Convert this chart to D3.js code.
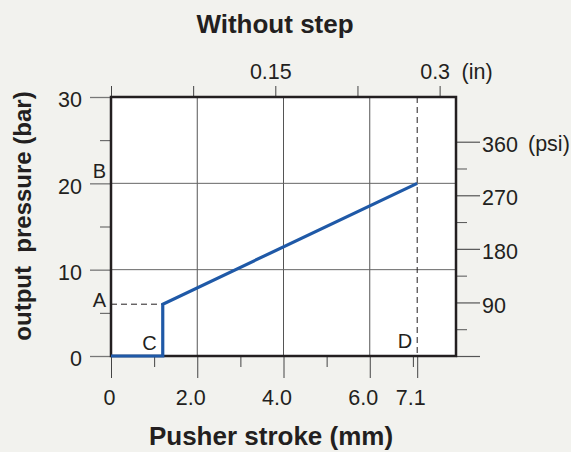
<!DOCTYPE html>
<html>
<head>
<meta charset="utf-8">
<script src="https://cdn.jsdelivr.net/npm/d3@7"></script>
<style>
  html, body { margin: 0; padding: 0; background: #f2f2ee; }
  svg { display: block; font-family: "Liberation Sans", Arial, Helvetica, sans-serif; }
</style>
</head>
<body>
<svg id="chart" width="571" height="452"></svg>
<script>
// Pressure curve: pusher stroke (mm) vs output pressure (bar)
const strokeMm = [0, 1.2, 1.2, 7.1];
const pressureBar = [0, 0, 6, 20];

// Axis ticks
const mmTicks = [0, 2, 4, 6, 7.1];
const mmLabels = ["0", "2.0", "4.0", "6.0", "7.1"];
const mmMinor = [1, 3, 5, 7];
const mmGrid = [2, 4, 6];
const barTicks = [0, 10, 20, 30];
const barMinor = [5, 15, 25];
const barGrid = [10, 20];
const inchTicks = [0, 0.075, 0.15, 0.225, 0.3];
const inchLabels = [0.15, 0.3];
const psiTicks = [0, 90, 180, 270, 360];
const psiMinor = [45, 135, 225, 315];

// Marked points
const levelA = 6;       // bar, pressure right after the step
const levelB = 20;      // bar, final pressure
const strokeC = 1.2;    // mm, step position
const strokeD = 7.1;    // mm, full stroke

const ink = "#231f20";
const tickFont = 21.5;
const svg = d3.select("#chart");

const plotL = 111, plotR = 456, plotT = 97, plotB = 356;
const x = d3.scaleLinear().domain([0, 8]).range([plotL, plotR]);
const y = d3.scaleLinear().domain([0, 30]).range([plotB, plotT]);
const xIn = d3.scaleLinear().domain([0, 8 / 25.4]).range([plotL, plotR]);
const yPsi = d3.scaleLinear().domain([0, 30 * 14.5038]).range([plotB, plotT]);

// Plot area
svg.append("rect")
  .attr("x", plotL).attr("y", plotT)
  .attr("width", plotR - plotL).attr("height", plotB - plotT)
  .attr("fill", "#fff");

// Grid lines
svg.append("g").selectAll("line").data(mmGrid).join("line")
  .attr("x1", d => x(d)).attr("x2", d => x(d))
  .attr("y1", plotT).attr("y2", plotB)
  .attr("stroke", "#555").attr("stroke-width", 1);
svg.append("g").selectAll("line").data(barGrid).join("line")
  .attr("x1", plotL).attr("x2", plotR)
  .attr("y1", d => y(d)).attr("y2", d => y(d))
  .attr("stroke", "#666").attr("stroke-width", 1);

// Bottom axis (mm)
const gx = svg.append("g").attr("transform", `translate(0,${plotB})`)
  .call(d3.axisBottom(x).tickValues(mmTicks).tickSize(22).tickPadding(12)
    .tickFormat((d, i) => mmLabels[i]));
gx.select(".domain").remove();
gx.selectAll(".tick line").attr("stroke", "#444");
gx.selectAll(".tick text")
  .attr("font-size", tickFont).attr("fill", ink)
  .attr("dx", (d, i) => i === 0 ? -2 : -7);
svg.append("g").attr("transform", `translate(0,${plotB})`)
  .call(d3.axisBottom(x).tickValues(mmMinor).tickSize(11).tickFormat(""))
  .call(g => g.select(".domain").remove())
  .selectAll(".tick line").attr("stroke", "#444");

// Left axis (bar)
const gy = svg.append("g").attr("transform", `translate(${plotL},0)`)
  .call(d3.axisLeft(y).tickValues(barTicks).tickSize(21).tickPadding(8));
gy.select(".domain").remove();
gy.selectAll(".tick line").attr("stroke", "#777").attr("stroke-width", 1.3);
gy.selectAll(".tick text").attr("font-size", tickFont).attr("fill", ink).attr("dy", "0.45em");
svg.append("g").attr("transform", `translate(${plotL},0)`)
  .call(d3.axisLeft(y).tickValues(barMinor).tickSize(11).tickFormat(""))
  .call(g => g.select(".domain").remove())
  .selectAll(".tick line").attr("stroke", "#555");

// Top axis (in)
const gt = svg.append("g").attr("transform", `translate(0,${plotT})`)
  .call(d3.axisTop(xIn).tickValues(inchTicks).tickSize(11).tickPadding(7)
    .tickFormat(d => inchLabels.includes(d) ? String(d) : ""));
gt.select(".domain").remove();
gt.selectAll(".tick line").attr("stroke", "#444");
gt.selectAll(".tick text").attr("font-size", tickFont).attr("fill", ink).attr("dx", -5);
svg.append("text")
  .attr("x", xIn(0.3) + 22).attr("y", 79)
  .attr("font-size", tickFont).attr("fill", ink)
  .text("(in)");

// Right axis (psi)
const gr = svg.append("g").attr("transform", `translate(${plotR},0)`)
  .call(d3.axisRight(yPsi).tickValues(psiTicks).tickSize(24).tickPadding(2)
    .tickFormat(d => d === 0 ? "" : String(d)));
gr.select(".domain").remove();
gr.selectAll(".tick line").attr("stroke", "#555").attr("stroke-width", 1.2);
gr.selectAll(".tick text").attr("font-size", tickFont).attr("fill", ink).attr("dy", "0.45em");
svg.append("g").attr("transform", `translate(${plotR},0)`)
  .call(d3.axisRight(yPsi).tickValues(psiMinor).tickSize(11).tickFormat(""))
  .call(g => g.select(".domain").remove())
  .selectAll(".tick line").attr("stroke", "#555");
svg.append("text")
  .attr("x", plotR + 72).attr("y", yPsi(360))
  .attr("dy", "0.45em")
  .attr("font-size", tickFont).attr("fill", ink)
  .text("(psi)");

// Guide lines for A and D
svg.append("line")
  .attr("x1", x(0)).attr("x2", x(strokeC))
  .attr("y1", y(levelA)).attr("y2", y(levelA))
  .attr("stroke", ink).attr("stroke-width", 1).attr("stroke-dasharray", "6,4");
svg.append("line")
  .attr("x1", x(strokeD)).attr("x2", x(strokeD))
  .attr("y1", plotT).attr("y2", plotB)
  .attr("stroke", ink).attr("stroke-width", 1).attr("stroke-dasharray", "6,4");

// Plot frame
svg.append("rect")
  .attr("x", plotL).attr("y", plotT)
  .attr("width", plotR - plotL).attr("height", plotB - plotT)
  .attr("fill", "none").attr("stroke", ink).attr("stroke-width", 2.5);

// Pressure curve
const line = d3.line().x(d => x(d[0])).y(d => y(d[1]));
svg.append("path")
  .datum(d3.zip(strokeMm, pressureBar))
  .attr("d", line)
  .attr("fill", "none")
  .attr("stroke", "#1f59a7")
  .attr("stroke-width", 3.2)
  .attr("stroke-linejoin", "miter");

// Point letters
const letters = [
  { t: "A", x: x(0) - 5, y: y(levelA) + 3 },
  { t: "B", x: x(0) - 5, y: y(levelB) - 5 },
  { t: "C", x: x(strokeC) - 6, y: y(0) - 6 },
  { t: "D", x: x(strokeD) - 5, y: y(0) - 8 }
];
svg.append("g").selectAll("text").data(letters).join("text")
  .attr("x", d => d.x).attr("y", d => d.y)
  .attr("text-anchor", "end")
  .attr("font-size", 20).attr("fill", ink)
  .text(d => d.t);

// Titles
svg.append("text")
  .attr("x", 275).attr("y", 33)
  .attr("text-anchor", "middle")
  .attr("font-size", 26).attr("font-weight", "bold").attr("fill", ink)
  .text("Without step");
svg.append("text")
  .attr("x", 271).attr("y", 445)
  .attr("text-anchor", "middle")
  .attr("font-size", 26).attr("font-weight", "bold").attr("fill", ink)
  .text("Pusher stroke (mm)");
svg.append("text")
  .attr("transform", "translate(31,216) rotate(-90)")
  .attr("text-anchor", "middle")
  .attr("font-size", 24).attr("font-weight", "bold").attr("fill", ink)
  .attr("xml:space", "preserve")
  .style("white-space", "pre")
  .text("output  pressure (bar)");
</script>
</body>
</html>
